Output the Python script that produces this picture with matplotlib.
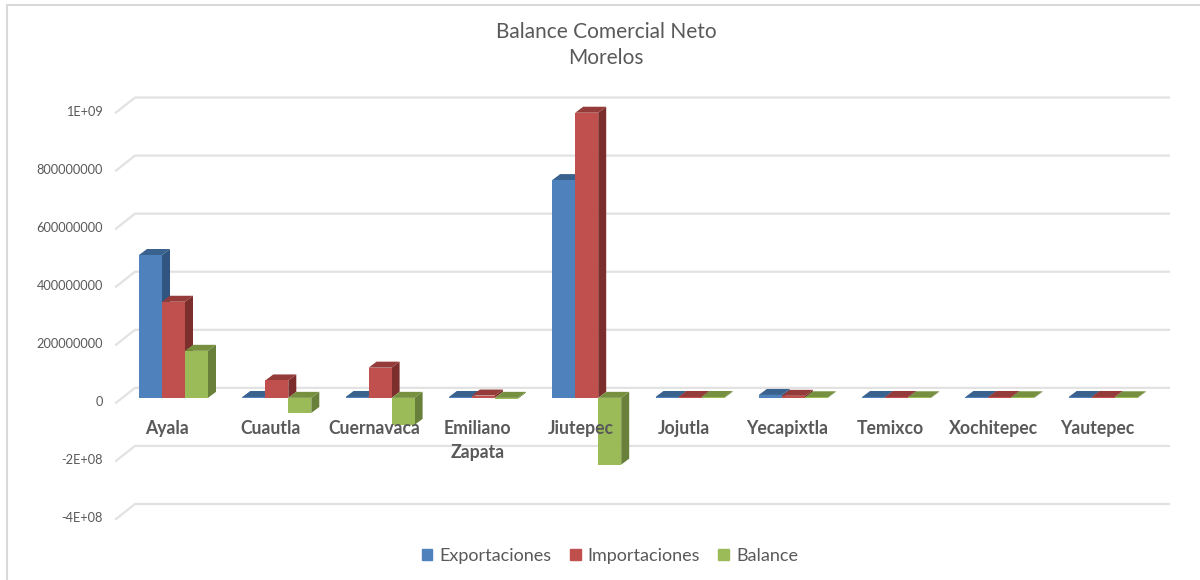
#Balance comercial neto, Morelos - excel style 3D column chart drawn in 2D

#LIBRARIES
import matplotlib
matplotlib.use('Agg')
import matplotlib.pyplot as plt
from matplotlib.lines import Line2D
from matplotlib.patches import Patch
from matplotlib.transforms import ScaledTranslation

#DATA
municipios = ['Ayala', 'Cuautla', 'Cuernavaca', 'Emiliano\nZapata', 'Jiutepec', 'Jojutla',
              'Yecapixtla', 'Temixco', 'Xochitepec', 'Yautepec']
exportaciones = [4.92e8, 3e6, 3e6, 3e6, 7.5e8, 3e6, 1.0e7, 3e6, 3e6, 3e6]
importaciones = [3.31e8, 6.0e7, 1.04e8, 8e6, 9.82e8, 3e6, 7e6, 3e6, 3e6, 3e6]
balance = [1.62e8, -5.2e7, -9.3e7, -3e6, -2.3e8, 3e6, 2e6, 2e6, 2e6, 2e6]
yticks = [1e9, 8e8, 6e8, 4e8, 2e8, 0, -2e8, -4e8]
ylabels = ['1E+09', '800000000', '600000000', '400000000', '200000000', '0', '-2E+08', '-4E+08']

#STYLE
W, H = 1200, 580
front = ['#4F81BD', '#C0504D', '#9BBB59']
top = ['#3A628F', '#953C3A', '#769040']
side = ['#2F5580', '#7C2E2C', '#68803A']
grid = '#E2E2E2'
txt = '#595959'
plt.rcParams['font.family'] = ['Lato', 'DejaVu Sans']

#pixel geometry of the plot
left, right = 116, 1149
ytop, ybot = 107.5, 514
x0 = 173.5 #center of first category
step = 103.3 #pixels per category

fig = plt.figure(figsize=(W/100, H/100), dpi=100)
ax = fig.add_axes([left/W, 1-ybot/H, (right-left)/W, (ybot-ytop)/H])
ax.set_xlim((left-x0)/step, (right-x0)/step)
ax.set_ylim(-4e8, 1e9)
for s in ax.spines.values():
    s.set_visible(False)

px_y = 1.4e9/(ybot-ytop) #value per pixel
px_x = 1/step
bw = 23*px_x
dx, dy = 8*px_x, 6*px_y

#GRID (back wall with slanted piece towards the front)
for v in yticks:
    ax.plot([left*px_x-x0*px_x, 135*px_x-x0*px_x, 1169*px_x-x0*px_x],
            [v-5*px_y, v+10*px_y, v+10*px_y], color=grid, lw=1.6, clip_on=False, zorder=1,
            solid_joinstyle='miter')

#BARS
series = [exportaciones, importaciones, balance]
for i in range(len(municipios)):
    for j, vals in enumerate(series):
        v = vals[i]
        xl = i + (j-1.5)*bw
        zo = 3 + j*0.1
        t = max(v, 0)
        ax.fill([xl+bw, xl+bw+dx, xl+bw+dx, xl+bw], [t, t+dy, v+dy if v < 0 else dy, v if v < 0 else 0],
                color=side[j], lw=0, zorder=zo, clip_on=False)
        ax.fill([xl, xl+dx, xl+bw+dx, xl+bw], [t, t+dy, t+dy, t],
                color=top[j], lw=0, zorder=zo, clip_on=False)
        ax.bar(xl, v, width=bw, align='edge', color=front[j], lw=0, zorder=zo+0.01, clip_on=False)

#TICKS
ax.set_xticks([])
ax.set_yticks(yticks)
ax.set_yticklabels(ylabels, fontsize=9.2, color=txt)
ax.tick_params(axis='y', length=0, pad=9.4)
shift = ScaledTranslation(0, -3/100, fig.dpi_scale_trans)
for lab in ax.get_yticklabels():
    lab.set_transform(lab.get_transform() + shift)

for i, m in enumerate(municipios):
    ax.annotate(m, (i-0.06, 0), xytext=(0, -22), textcoords='offset pixels', ha='center', va='top',
                fontsize=12.7, fontweight='bold', color=txt, zorder=6, linespacing=1.5,
                annotation_clip=False)

#TITLE
fig.text(606/W, 1-45/H, 'Balance Comercial Neto\nMorelos', ha='center', va='center',
         fontsize=15, color=txt, linespacing=1.34)

#LEGEND
handles = [Patch(color=front[0], label='Exportaciones'), Patch(color=front[1], label='Importaciones'),
           Patch(color=front[2], label='Balance')]
fig.legend(handles=handles, loc='center', bbox_to_anchor=(610/W, 1-556/H), ncol=3, frameon=False,
           fontsize=13, labelcolor=txt, handlelength=0.6, handleheight=0.6, handletextpad=0.4,
           columnspacing=1.0)

#FRAME (left and top only)
fig.add_artist(Line2D([7/W, 7/W, 1], [0, 1-5/H, 1-5/H], color='#D9D9D9', lw=1.5))

fig.savefig('out.png', dpi=100)
